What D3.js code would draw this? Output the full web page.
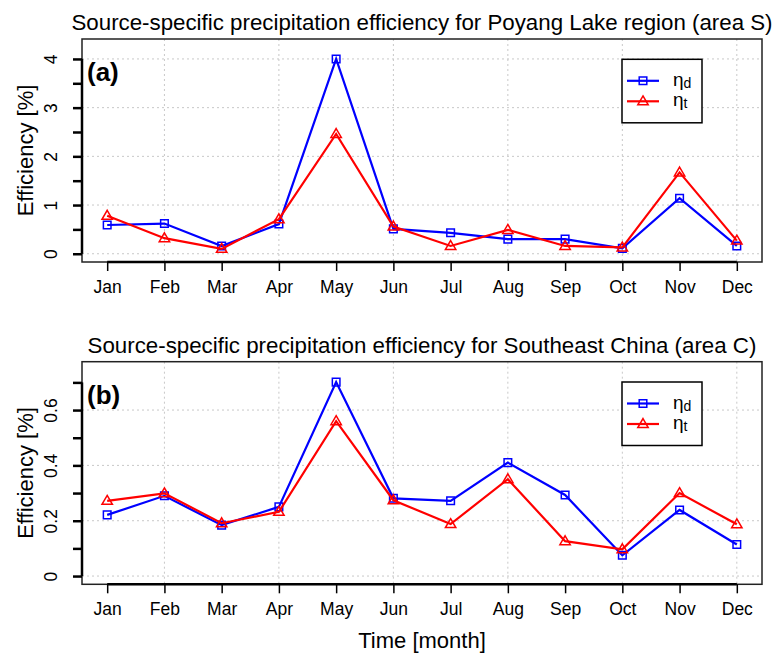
<!DOCTYPE html>
<html>
<head>
<meta charset="utf-8">
<script src="https://cdn.jsdelivr.net/npm/d3@7"></script>
<style>
  body { margin: 0; background: #fff; }
  svg { font-family: "Liberation Sans", Arial, Helvetica, sans-serif; }
</style>
</head>
<body>
<script>
// monthly source-specific precipitation efficiency, two regions

var months = ["Jan", "Feb", "Mar", "Apr", "May", "Jun", "Jul", "Aug", "Sep", "Oct", "Nov", "Dec"];

// (a) Poyang Lake region, area S
var etaD_S = [0.59, 0.62, 0.16, 0.61, 4.00, 0.51, 0.43, 0.30, 0.30, 0.11, 1.14, 0.16];
var etaT_S = [0.78, 0.32, 0.10, 0.71, 2.46, 0.56, 0.16, 0.49, 0.16, 0.13, 1.67, 0.27];

// (b) Southeast China, area C
var etaD_C = [0.221, 0.290, 0.184, 0.250, 0.701, 0.281, 0.272, 0.410, 0.293, 0.075, 0.239, 0.114];
var etaT_C = [0.272, 0.299, 0.191, 0.232, 0.560, 0.274, 0.188, 0.350, 0.126, 0.097, 0.300, 0.187];

var titles = [
  "Source-specific precipitation efficiency for Poyang Lake region (area S)",
  "Source-specific precipitation efficiency for Southeast China (area C)"
];
var panelTags = ["(a)", "(b)"];
var yLims = [[0, 4.24], [0, 0.745]];
var yTicks = [[0, 0.5, 1, 1.5, 2, 2.5, 3, 3.5, 4], [0, 0.1, 0.2, 0.3, 0.4, 0.5, 0.6, 0.7]];
var yLabels = [[0, 1, 2, 3, 4], [0, 0.2, 0.4, 0.6]];

var width = 776, height = 657;
var left = 82, right = 762;
var panels = [
  { top: 39, bottom: 262, d: etaD_S, t: etaT_S },
  { top: 361.7, bottom: 584.3, d: etaD_C, t: etaT_C }
];

var svg = d3.select("body").append("svg")
    .attr("width", width)
    .attr("height", height);

// R style 4% padding on the x range
var x = d3.scaleLinear()
    .domain([1 - 0.44, 12 + 0.44])
    .range([left, right]);

var line = d3.line();

panels.forEach(function(p, k) {
  var lim = yLims[k],
      pad = (lim[1] - lim[0]) * 0.04;
  var y = d3.scaleLinear()
      .domain([lim[0] - pad, lim[1] + pad])
      .range([p.bottom, p.top]);

  var g = svg.append("g");

  // dotted grid
  g.selectAll(".vgrid")
    .data(d3.range(2, 13, 2))
    .enter().append("line")
      .attr("x1", function(m) { return x(m); })
      .attr("x2", function(m) { return x(m); })
      .attr("y1", p.top)
      .attr("y2", p.bottom)
      .attr("stroke", "#c8c8c8")
      .attr("stroke-dasharray", "2,3");

  g.selectAll(".hgrid")
    .data(yLabels[k])
    .enter().append("line")
      .attr("x1", left)
      .attr("x2", right)
      .attr("y1", function(v) { return y(v); })
      .attr("y2", function(v) { return y(v); })
      .attr("stroke", "#c8c8c8")
      .attr("stroke-dasharray", "2,3");

  // box
  g.append("rect")
      .attr("x", left)
      .attr("y", p.top)
      .attr("width", right - left)
      .attr("height", p.bottom - p.top)
      .attr("fill", "none")
      .attr("stroke", "#222")
      .attr("stroke-width", 1.5);

  // x axis
  var xAxis = g.append("g")
      .attr("transform", "translate(0," + p.bottom + ")")
      .call(d3.axisBottom(x)
        .tickValues(d3.range(1, 13))
        .tickFormat(function(m) { return months[m - 1]; })
        .tickSize(9)
        .tickSizeOuter(0));
  xAxis.select(".domain").remove();
  xAxis.selectAll(".tick line").attr("stroke", "#000").attr("stroke-width", 1.5);
  xAxis.selectAll(".tick text")
      .attr("y", 31)
      .attr("dy", null)
      .attr("fill", "#000")
      .style("font-size", "17.5px")
      .style("font-family", "'Liberation Sans', Arial, sans-serif");
  xAxis.append("line")
      .attr("x1", x(1)).attr("x2", x(12))
      .attr("stroke", "#000").attr("stroke-width", 2.5);

  // y axis
  var yAxis = g.append("g")
      .attr("transform", "translate(" + left + ",0)")
      .call(d3.axisLeft(y)
        .tickValues(yTicks[k])
        .tickFormat(function(v) { return yLabels[k].indexOf(v) >= 0 ? d3.format("~g")(v) : ""; })
        .tickSize(9)
        .tickSizeOuter(0));
  yAxis.select(".domain").remove();
  yAxis.selectAll(".tick line").attr("stroke", "#000").attr("stroke-width", 2.5);
  yAxis.selectAll(".tick text")
      .attr("x", null)
      .attr("dy", null)
      .attr("text-anchor", "middle")
      .attr("transform", "translate(-25,0) rotate(-90)")
      .attr("fill", "#000")
      .style("font-size", "17.5px")
      .style("font-family", "'Liberation Sans', Arial, sans-serif");
  yAxis.append("line")
      .attr("y1", y(yTicks[k][0])).attr("y2", y(yTicks[k][yTicks[k].length - 1]))
      .attr("stroke", "#000").attr("stroke-width", 2.5);

  // titles
  g.append("text")
      .attr("x", (left + right) / 2)
      .attr("y", p.top - 9)
      .attr("text-anchor", "middle")
      .style("font-size", "22.3px")
      .text(titles[k]);

  g.append("text")
      .attr("transform", "translate(33," + (p.top + p.bottom) / 2 + ") rotate(-90)")
      .attr("text-anchor", "middle")
      .style("font-size", "22px")
      .text("Efficiency [%]");

  g.append("text")
      .attr("x", 87)
      .attr("y", p.top + 42)
      .style("font-size", "26px")
      .style("font-weight", "bold")
      .text(panelTags[k]);

  // series
  var series = [
    { v: p.d, color: "#0000ff", shape: "square" },
    { v: p.t, color: "#ff0000", shape: "triangle" }
  ];

  series.forEach(function(s) {
    g.append("path")
        .attr("d", line(s.v.map(function(v, i) { return [x(i + 1), y(v)]; })))
        .attr("fill", "none")
        .attr("stroke", s.color)
        .attr("stroke-width", 2.2);

    g.selectAll(null)
      .data(s.v)
      .enter().append("path")
        .attr("transform", function(v, i) { return "translate(" + x(i + 1) + "," + y(v) + ")"; })
        .attr("d", marker(s.shape))
        .attr("fill", "none")
        .attr("stroke", s.color)
        .attr("stroke-width", 1.5);
  });

  // legend
  var lg = g.append("g").attr("transform", "translate(622," + (p.top + 20.3) + ")");
  lg.append("rect")
      .attr("width", 80).attr("height", 63.5)
      .attr("fill", "#fff")
      .attr("stroke", "#000")
      .attr("stroke-width", 1.5);
  [["d", series[0]], ["t", series[1]]].forEach(function(e, j) {
    var ry = 21.5 + j * 20.5;
    lg.append("line")
        .attr("x1", 5).attr("x2", 37)
        .attr("y1", ry).attr("y2", ry)
        .attr("stroke", e[1].color).attr("stroke-width", 2.2);
    lg.append("path")
        .attr("transform", "translate(21," + ry + ")")
        .attr("d", marker(e[1].shape))
        .attr("fill", "none")
        .attr("stroke", e[1].color)
        .attr("stroke-width", 1.5);
    var t = lg.append("text")
        .attr("x", 51)
        .attr("y", ry + 5)
        .style("font-size", "19px");
    t.append("tspan").text("η");
    t.append("tspan").attr("dy", 2).style("font-size", "14px").text(e[0]);
  });
});

svg.append("text")
    .attr("x", (left + right) / 2)
    .attr("y", 648)
    .attr("text-anchor", "middle")
    .style("font-size", "22px")
    .text("Time [month]");

function marker(shape) {
  if (shape === "square") return "M-3.8,-3.8H3.8V3.8H-3.8Z";
  return "M0,-5.4L5.2,3.5H-5.2Z";
}
</script>
</body>
</html>
